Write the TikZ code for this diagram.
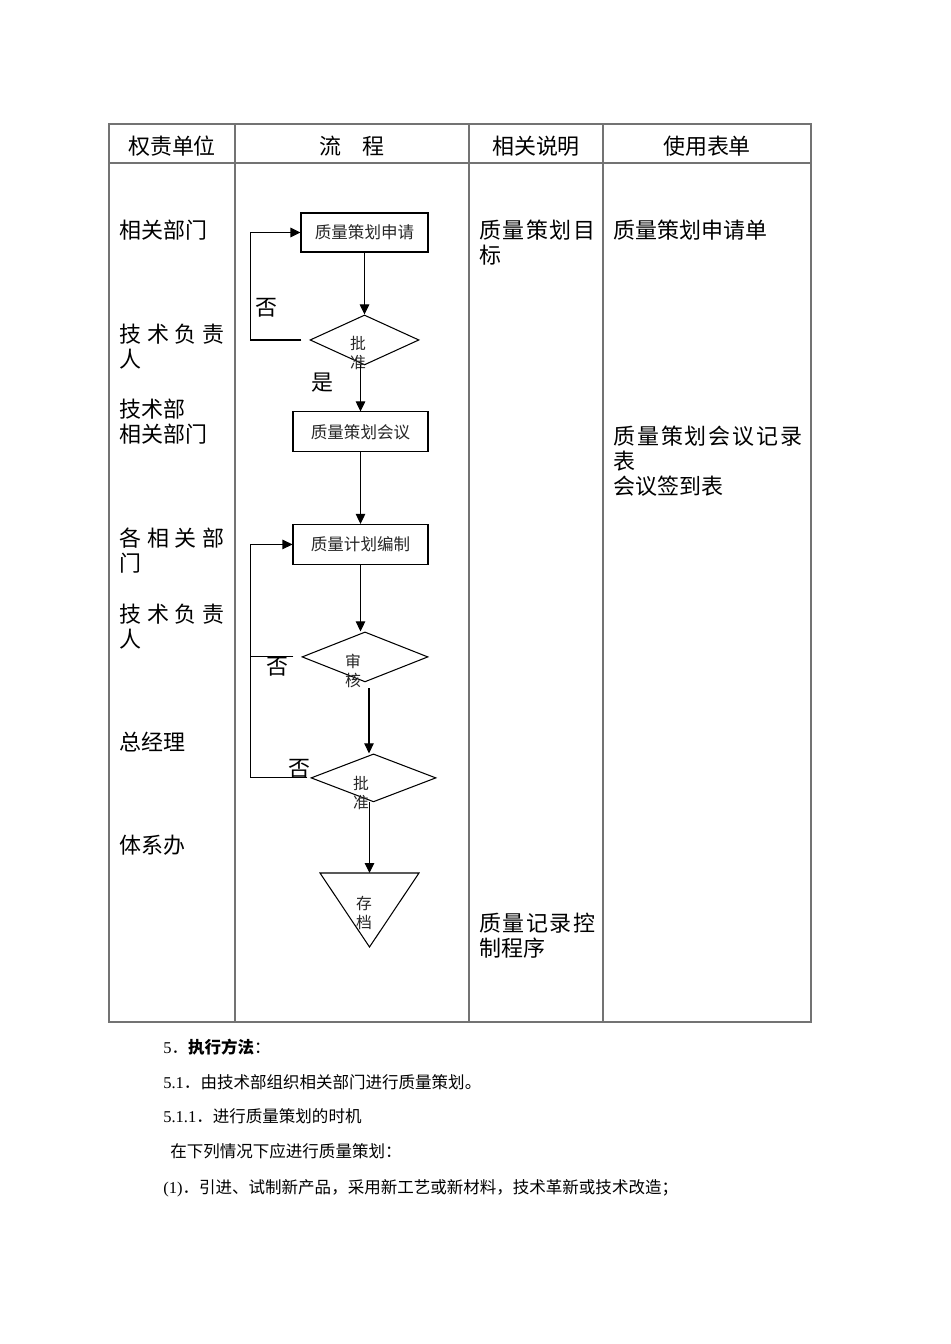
\documentclass[tikz,border=0pt]{standalone}
\usepackage{fontspec}
\setmainfont{Noto Sans CJK SC}
\newfontfamily\latin{Liberation Serif}
\usetikzlibrary{shapes.geometric, arrows.meta, positioning}
\tikzstyle{process} = [rectangle, draw=black, line width=0.6pt, inner sep=0pt, font=\fontsize{9.4}{11}\selectfont, text=black!85]
\tikzstyle{decision} = [diamond, draw=black, line width=0.6pt, inner sep=0pt]
\tikzstyle{flowtext} = [inner sep=0pt, align=center, font=\fontsize{9}{10.8}\selectfont, text=black!85]
\tikzstyle{celltext} = [inner sep=0pt, anchor=north west, align=left, font=\fontsize{12.5}{14}\selectfont]
\tikzstyle{headtext} = [inner sep=0pt, font=\fontsize{12.5}{14}\selectfont]
\tikzstyle{bodytext} = [inner sep=0pt, anchor=west, font=\fontsize{9.4}{11}\selectfont]
\tikzstyle{arrow} = [line width=0.6pt, -{Triangle[length=0.2cm,width=0.19cm]}]
\tikzstyle{flowline} = [line width=0.6pt]
\tikzstyle{tablerule} = [draw=black!55, line width=0.7pt]
\newcommand{\spreadline}[2]{\makebox[#1][l]{#2}}

\begin{document}
\begin{tikzpicture}[x=0.02cm, y=-0.02cm, node distance=2cm]
\useasboundingbox (0,0) rectangle (950,1344);
% table
\draw [tablerule] (109,124) rectangle (811,1022);
\draw [tablerule] (109,163) -- (811,163);
\foreach \x in {235,469,603} \draw [tablerule] (\x,124) -- (\x,1022);
\node (hunit) [headtext] at (172,146) {权责单位};
\node (hflow) [headtext] at (352,146) {流\hspace{1em}程};
\node (hnote) [headtext] at (536,146) {相关说明};
\node (hform) [headtext] at (707,146) {使用表单};
% responsible units
\node (unit1) [celltext] at (119,220) {相关部门};
\node (unit2) [celltext] at (119,324) {\spreadline{2.1cm}{技\hfill 术\hfill 负\hfill 责}\\人};
\node (unit3) [celltext] at (119,399) {技术部\\相关部门};
\node (unit4) [celltext] at (119,528) {\spreadline{2.1cm}{各\hfill 相\hfill 关\hfill 部}\\门};
\node (unit5) [celltext] at (119,604) {\spreadline{2.1cm}{技\hfill 术\hfill 负\hfill 责}\\人};
\node (unit6) [celltext] at (119,732) {总经理};
\node (unit7) [celltext] at (119,835) {体系办};
% notes and forms
\node (note1) [celltext] at (479,220) {\spreadline{2.32cm}{质\hfill 量\hfill 策\hfill 划\hfill 目}\\标};
\node (note2) [celltext] at (479,913) {\spreadline{2.32cm}{质\hfill 量\hfill 记\hfill 录\hfill 控}\\制程序};
\node (form1) [celltext] at (613,220) {质量策划申请单};
\node (form2) [celltext] at (613,426) {\spreadline{3.78cm}{质\hfill 量\hfill 策\hfill 划\hfill 会\hfill 议\hfill 记\hfill 录}\\表\\会议签到表};
% flow
\node (apply) [process, minimum width=2.54cm, minimum height=0.78cm] at (364.5,232.5) {质量策划申请};
\node (approve1) [decision, minimum width=2.18cm, minimum height=1cm, below of=apply, yshift=-0.15cm] {};
\node (meeting) [process, minimum width=2.7cm, minimum height=0.8cm, below of=approve1, xshift=-0.08cm, yshift=0.16cm] {质量策划会议};
\node (plan) [process, minimum width=2.7cm, minimum height=0.8cm, below of=meeting, yshift=-0.25cm] {质量计划编制};
\node (review) [decision, minimum width=2.52cm, minimum height=1cm, below of=plan, xshift=0.09cm, yshift=-0.25cm] {};
\node (approve2) [decision, minimum width=2.5cm, minimum height=0.96cm, below of=review, xshift=0.17cm, yshift=-0.42cm] {};
\coordinate (archive) at (369.5,873);
\draw [flowline] (archive) ++(-49.5,0) -- ++(99,0) -- ++(-49.5,74) -- cycle;
\node (approve1txt) [flowtext] at (358,353) {批\\准};
\node (reviewtxt) [flowtext] at (353,671) {审\\核};
\node (approve2txt) [flowtext] at (361,793) {批\\准};
\node (archivetxt) [flowtext] at (364,913) {存\\档};
\node (no1) [headtext] at (266,308) {否};
\node (yes1) [headtext] at (322,383) {是};
\node (no2) [headtext] at (277,667) {否};
\node (no3) [headtext] at (299,769) {否};
\draw [arrow] (apply) -- (approve1);
\draw [arrow] (meeting.north |- approve1.south) -- (meeting.north);
\draw [arrow] (meeting) -- (plan);
\draw [arrow] (plan.south) -- (plan.south |- review.north);
\coordinate (reviewout) at ([xshift=0.08cm, yshift=-0.12cm]review.south);
\draw [arrow] (reviewout) -- (reviewout |- approve2.north);
\draw [arrow] (archive |- approve2.south) -- (archive);
% loops back
\draw [arrow] ([xshift=-0.16cm]approve1.west) -- ++(-51,0) |- (apply.west);
\draw [flowline] ([xshift=-0.16cm]review.west) -- ++(-43,0);
\draw [arrow] ([xshift=-0.06cm]approve2.west) -- ++(-57,0) |- (plan.west);
% text below the table
\node (sec5) [bodytext] at (163,1047) {{\latin 5}．\textbf{执行方法}：};
\node (sec51) [bodytext] at (163,1082) {{\latin 5.1}．由技术部组织相关部门进行质量策划。};
\node (sec511) [bodytext] at (163,1116) {{\latin 5.1.1}．进行质量策划的时机};
\node (cases) [bodytext] at (170,1151) {在下列情况下应进行质量策划：};
\node (case1) [bodytext] at (163,1188) {{\latin (1)}．引进、试制新产品，采用新工艺或新材料，技术革新或技术改造；};
\end{tikzpicture}
\end{document}
